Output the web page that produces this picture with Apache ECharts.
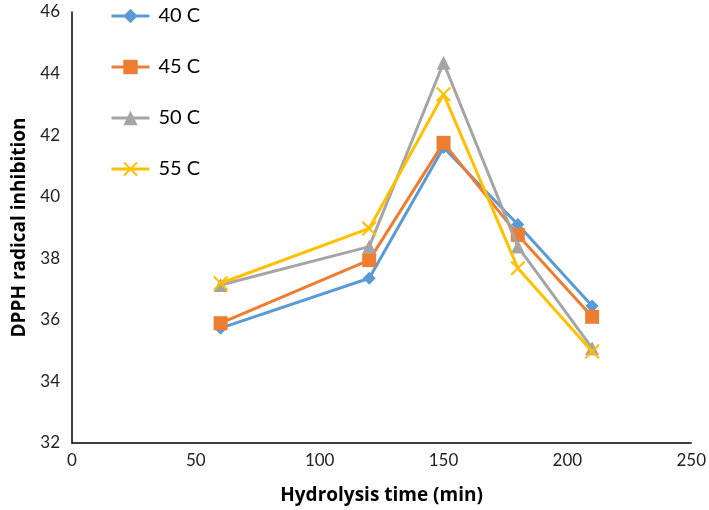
<!DOCTYPE html>
<html>
<head>
<meta charset="utf-8">
<script src="https://cdn.jsdelivr.net/npm/echarts@6/dist/echarts.min.js"></script>
<style>html,body{margin:0;padding:0;background:#fff}#c{width:709px;height:510px}</style>
</head>
<body>
<div id="c"></div>
<script>
const times = [60, 120, 150, 180, 210];
const seriesNames = ['40 C', '45 C', '50 C', '55 C'];
const s40 = [35.73, 37.35, 41.6, 39.1, 36.45];
const s45 = [35.89, 37.94, 41.75, 38.76, 36.1];
const s50 = [37.13, 38.38, 44.35, 38.38, 35.08];
const s55 = [37.19, 38.97, 43.33, 37.68, 34.97];
const xTicks = [0, 50, 100, 150, 200, 250];
const yTicks = [32, 34, 36, 38, 40, 42, 44, 46];

const colors = ['#5B9BD5', '#ED7D31', '#A5A5A5', '#FFC000'];
const xPath = 'path://M0,1 L1,0 L5,4 L9,0 L10,1 L6,5 L10,9 L9,10 L5,6 L1,10 L0,9 L4,5 Z';
const symbols = ['diamond', 'rect', 'triangle', xPath];
const sizes = [13, 14, 14, 15];
const values = [s40, s45, s50, s55];
const font = 'Lato, "Open Sans", sans-serif';
const titleFont = '"Open Sans", Lato, sans-serif';

const chart = echarts.init(document.getElementById('c'), null, {renderer: 'canvas'});
chart.setOption({
  animation: false,
  backgroundColor: '#fff',
  color: colors,
  legend: {
    orient: 'vertical',
    left: 105,
    top: 1,
    itemWidth: 38,
    itemHeight: 18,
    itemGap: 31,
    lineStyle: {width: 3},
    textStyle: {fontSize: 20, lineHeight: 20, color: '#000', fontFamily: font, padding: [0, 0, 0, 4]},
    data: seriesNames
  },
  grid: {left: 72, right: 14, top: 12, bottom: 67, containLabel: false},
  xAxis: {
    type: 'value',
    min: xTicks[0], max: xTicks[xTicks.length - 1], interval: 50,
    name: 'Hydrolysis time (min)',
    nameLocation: 'middle',
    nameGap: 43,
    nameTextStyle: {fontSize: 19, fontWeight: 'bold', color: '#000', fontFamily: titleFont},
    axisLine: {lineStyle: {color: '#000', width: 1.5}},
    axisTick: {show: false},
    splitLine: {show: false},
    axisLabel: {fontSize: 17, color: '#222', fontFamily: font, margin: 9}
  },
  yAxis: {
    type: 'value',
    min: yTicks[0], max: yTicks[yTicks.length - 1], interval: 2,
    name: 'DPPH radical inhibition',
    nameLocation: 'middle',
    nameGap: 43,
    nameTextStyle: {fontSize: 19, fontWeight: 'bold', color: '#000', fontFamily: titleFont},
    axisLine: {show: true, lineStyle: {color: '#000', width: 1.5}},
    axisTick: {show: false},
    splitLine: {show: false},
    axisLabel: {fontSize: 17, color: '#222', fontFamily: font, margin: 12}
  },
  series: seriesNames.map((n, i) => ({
    name: n,
    type: 'line',
    data: times.map((t, j) => [t, values[i][j]]),
    symbol: symbols[i],
    symbolSize: sizes[i],
    showAllSymbol: true,
    lineStyle: {width: 3, color: colors[i]},
    itemStyle: {color: colors[i]},
    z: 2 + i
  }))
});
</script>
</body>
</html>
